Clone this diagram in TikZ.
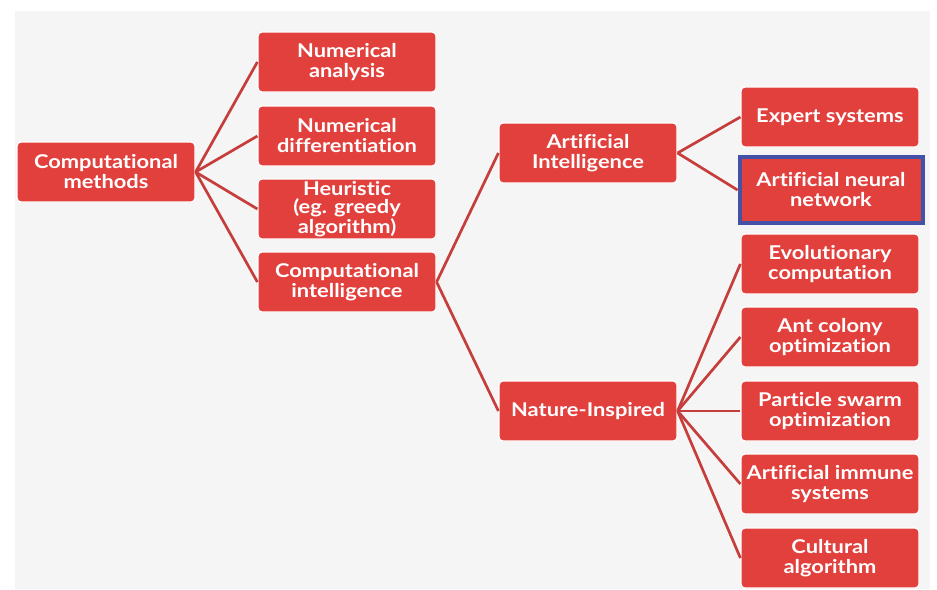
\documentclass[tikz,border=0pt]{standalone}
\usepackage{fontspec}
\setmainfont{Lato}[Ligatures=NoCommon, FakeStretch=1.15]
\usepackage{tikz}

\definecolor{boxred}{HTML}{E2403D}
\definecolor{linered}{HTML}{C63E3B}
\definecolor{annblue}{HTML}{4352A6}
\definecolor{bggray}{HTML}{F5F5F5}

\tikzset{
  box/.style={rectangle, rounded corners=4pt, fill=boxred, draw=white,
    line width=1.2pt, minimum width=178pt, minimum height=60pt,
    inner sep=1pt, align=center, text=white,
    font=\fontsize{19}{20}\selectfont\bfseries},
  link/.style={draw=linered, line width=2.7pt},
}

\begin{document}
\begin{tikzpicture}[x=1pt,y=-1pt]

\useasboundingbox (0,0) rectangle (937,589);
\fill[white] (0,0) rectangle (937,589);
\fill[bggray] (15,11) rectangle (930,589);

%% root and first level
\node[box] (cm) at (106,172) {Computational\\methods};
\node[box] (na) at (347,62) {Numerical\\analysis};
\node[box] (nd) at (347,136) {Numerical\\differentiation};
\node[box, font=\fontsize{19}{18}\selectfont\bfseries] (heu) at (347,209) {Heuristic\\(eg. greedy\\algorithm)};
\node[box] (ci) at (347,282) {Computational\\intelligence};

%% second level
\node[box] (ai) at (588,153) {Artificial\\Intelligence};
\node[box] (ni) at (588,411) {Nature-Inspired};

%% leaves
\node[box] (es) at (830,117) {Expert systems};
\node[box, draw=annblue, line width=4pt, sharp corners, minimum width=183pt, minimum height=66pt] (ann) at (831,190) {Artificial neural\\network};
\node[box] (ec) at (830,264) {Evolutionary\\computation};
\node[box] (ac) at (830,337) {Ant colony\\optimization};
\node[box] (ps) at (830,411) {Particle swarm\\optimization};
\node[box] (ais) at (830,484) {Artificial immune\\systems};
\node[box] (ca) at (830,558) {Cultural\\algorithm};

%%% edges
\foreach \t in {na,nd,heu,ci}
  \draw[link] (cm.east) -- (\t.west);
\foreach \t in {ai,ni}
  \draw[link] (ci.east) -- (\t.west);
\foreach \t in {es,ann}
  \draw[link] (ai.east) -- (\t.west);
\foreach \t in {ec,ac,ps,ais,ca}
  \draw[link] (ni.east) -- (\t.west);

\end{tikzpicture}
\end{document}
